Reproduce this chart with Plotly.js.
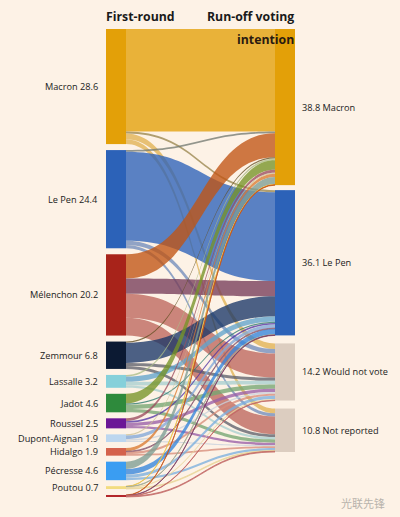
<!DOCTYPE html>
<html>
<head>
<meta charset="utf-8">
<script src="https://cdn.plot.ly/plotly-3.0.1.min.js"></script>
<style>html,body{margin:0;padding:0;background:#fdf2e6;}#chart{width:400px;height:517px;}</style>
</head>
<body>
<div id="chart"></div>
<script>
// ---- data ----
const firstRound = ["Macron", "Le Pen", "Mélenchon", "Zemmour", "Lassalle", "Jadot", "Roussel", "Dupont-Aignan", "Hidalgo", "Pécresse", "Poutou", "Arthaud"];
const firstRoundShare = [28.6, 24.4, 20.2, 6.8, 3.2, 4.6, 2.5, 1.9, 1.9, 4.6, 0.7, 0.5];
const firstRoundShown = [true, true, true, true, true, true, true, true, true, true, true, false];
const runOff = ["Macron", "Le Pen", "Would not vote", "Not reported"];
const runOffShare = [38.8, 36.1, 14.2, 10.8];
// transfers: one entry per first-round candidate for each run-off choice
const toMacron      = [25.5, 0.4, 6.0, 0.3, 0.4, 2.4, 0.7, 0.3, 0.8, 1.8, 0.1, 0.1];
const toLePen       = [0.5, 22.1, 3.8, 5.0, 1.3, 0.3, 0.4, 0.9, 0.2, 1.4, 0.1, 0.1];
const toWouldNotVote= [1.4, 1.1, 6.0, 0.8, 0.9, 1.1, 0.8, 0.4, 0.5, 0.8, 0.3, 0.1];
const toNotReported = [1.2, 0.8, 4.4, 0.7, 0.6, 0.8, 0.6, 0.3, 0.4, 0.6, 0.2, 0.2];

// ---- style ----
const leftColors = ["#e3a008", "#2c62b8", "#a8231a", "#0c1a33", "#86d0da", "#2e8a3c", "#6b1696", "#bcd6ef", "#d4624c", "#3a9df2", "#f2dc80", "#b3262a"];
const rightColors = ["#e3a008", "#2c62b8", "#dccdc0", "#dccdc0"];
const W = 400, H = 517;
const topPx = 29, bottomPx = 497, leftEdge = 106, rightEdge = 295, thick = 20, pad = 6;
const rightGaps = [5, 8, 8];

function hexRgb(hex) {
  const n = parseInt(hex.slice(1), 16);
  return [(n >> 16) & 255, (n >> 8) & 255, n & 255];
}
function mixRgba(a, b, t, alpha) {
  const A = hexRgb(a), B = hexRgb(b);
  const c = A.map((v, k) => Math.round(v * (1 - t) + B[k] * t));
  return `rgba(${c[0]},${c[1]},${c[2]},${alpha})`;
}

const domH = bottomPx - topPx;
const totalLeft = firstRoundShare.reduce((a, b) => a + b, 0);
const ky = (domH - (firstRound.length - 1) * pad) / totalLeft;

const leftCentres = [];
let yy = 0;
firstRoundShare.forEach((v) => { leftCentres.push(yy + v * ky / 2); yy += v * ky + pad; });
const rightCentres = [];
yy = 0;
runOffShare.forEach((v, i) => { rightCentres.push(yy + v * ky / 2); yy += v * ky + (rightGaps[i] || 0); });

const domW = rightEdge - leftEdge;
const nodeX = [], nodeY = [], nodeColor = [];
firstRound.forEach((n, i) => { nodeX.push((thick / 2) / domW); nodeY.push(leftCentres[i] / domH); nodeColor.push(leftColors[i]); });
runOff.forEach((n, i) => { nodeX.push(1 - (thick / 2) / domW); nodeY.push(rightCentres[i] / domH); nodeColor.push(rightColors[i]); });

const src = [], tgt = [], val = [], lcol = [];
const flows = [toMacron, toLePen, toWouldNotVote, toNotReported];
firstRound.forEach((n, i) => {
  flows.forEach((f, j) => {
    src.push(i); tgt.push(firstRound.length + j); val.push(f[i]);
    lcol.push(mixRgba(leftColors[i], rightColors[j], 0.4, 0.78));
  });
});

const trace = {
  type: "sankey",
  arrangement: "fixed",
  domain: { x: [leftEdge / W, rightEdge / W], y: [1 - bottomPx / H, 1 - topPx / H] },
  hoverinfo: "none",
  node: {
    label: firstRound.concat(runOff).map(() => ""),
    x: nodeX, y: nodeY, color: nodeColor,
    thickness: thick, pad: pad,
    line: { width: 0 },
    hoverinfo: "none"
  },
  link: { source: src, target: tgt, value: val, color: lcol, line: { width: 0 }, hoverinfo: "none" }
};

const font = "Open Sans, Lato, sans-serif";
const annotations = [];
firstRound.forEach((n, i) => {
  if (!firstRoundShown[i]) return;
  annotations.push({ xref: "paper", yref: "paper", x: 100 / W, y: 1 - (topPx + leftCentres[i]) / H,
    xanchor: "right", yanchor: "middle", showarrow: false,
    text: n + " " + firstRoundShare[i], font: { family: font, size: 9.2, color: "#222222" } });
});
runOff.forEach((n, i) => {
  annotations.push({ xref: "paper", yref: "paper", x: 300 / W, y: 1 - (topPx + rightCentres[i]) / H,
    xanchor: "left", yanchor: "middle", showarrow: false,
    text: runOffShare[i] + " " + n, font: { family: font, size: 9.2, color: "#222222" } });
});
annotations.push({ xref: "paper", yref: "paper", x: 104 / W, y: 1 - 16 / H, xanchor: "left", yanchor: "middle", showarrow: false,
  text: "<b>First-round</b>", font: { family: font, size: 12.3, color: "#1a1a1a" } });
annotations.push({ xref: "paper", yref: "paper", x: 296 / W, y: 1 - 16 / H, xanchor: "right", yanchor: "middle", showarrow: false,
  text: "<b>Run-off voting</b>", font: { family: font, size: 12.3, color: "#1a1a1a" } });
annotations.push({ xref: "paper", yref: "paper", x: 296 / W, y: 1 - 39 / H, xanchor: "right", yanchor: "middle", showarrow: false,
  text: "<b>intention</b>", font: { family: font, size: 12.3, color: "#2a1a10" } });
annotations.push({ xref: "paper", yref: "paper", x: 387 / W, y: 1 - 503 / H, xanchor: "right", yanchor: "middle", showarrow: false,
  text: "光联先锋", font: { family: "Noto Sans CJK SC", size: 11, color: "#b8b2ac" } });

const layout = {
  width: W, height: H,
  margin: { l: 0, r: 0, t: 0, b: 0 },
  paper_bgcolor: "#fdf2e6",
  plot_bgcolor: "#fdf2e6",
  annotations: annotations,
  showlegend: false
};

Plotly.newPlot("chart", [trace], layout, { displayModeBar: false, staticPlot: true });
</script>
</body>
</html>
